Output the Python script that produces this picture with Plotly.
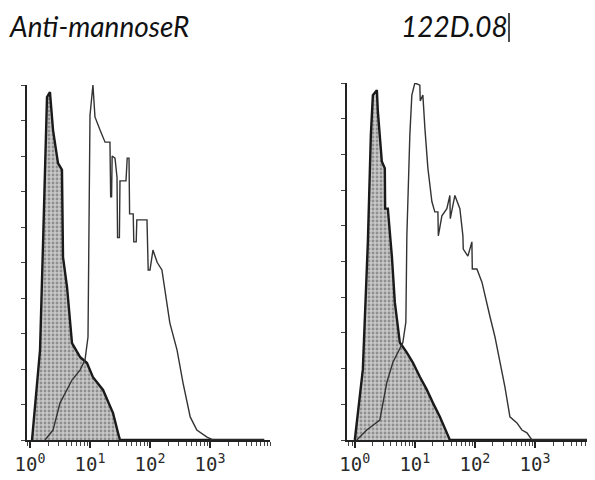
import plotly.graph_objects as go

# ---- data (fluorescence intensity, relative cell count) ----
titles = ["Anti-mannoseR", "122D.08"]

ctrl_left_x = [1.08, 1.47, 1.65, 1.78, 1.92, 2.15, 2.42, 2.93, 3.41, 3.55, 4.14, 5.01,
               6.81, 8.91, 11.2, 16.5, 24.2, 29.3, 31.6, 8000]
ctrl_left_y = [0, 25.4, 55.5, 78.9, 96.6, 98.0, 87.3, 78.0, 76.1, 51.5, 43.1, 27.3,
               23.4, 21.7, 17.7, 14.1, 7.6, 2.0, 0, 0]

stain_left_x = [1.78, 2.42, 3.16, 4.14, 5.01, 6.81, 8.25, 9.26, 10.0, 11.2, 12.1, 14.7,
                17.8, 21.5, 22.1, 22.9, 23.4, 26.1, 28.2, 28.8, 30.9, 31.6, 35.5, 39.8,
                41.7, 44.7, 45.7, 52.5, 53.7, 58.9, 60.3, 70.8, 89.1, 93.3, 100, 112,
                132, 158, 214, 282, 355, 468, 603, 891, 1122, 8000]
stain_left_y = [0, 2.8, 10.4, 14.1, 16.9, 19.7, 22.5, 29.0, 91.5, 100, 91.0, 87.3,
                83.9, 83.9, 68.5, 68.5, 80, 79.4, 74, 57, 57, 73, 73, 73,
                79.4, 79.4, 63.7, 63.7, 55.8, 55.8, 62, 62, 62, 47.9, 47.9, 53.5,
                50, 47.9, 33.0, 25.4, 16.1, 6.5, 2.8, 0.8, 0, 0]

ctrl_right_x = [1.0, 1.36, 1.65, 1.85, 2.0, 2.33, 2.42, 2.82, 3.16, 3.2, 3.55, 4.14,
                4.64, 5.62, 7.36, 9.26, 12.1, 15.8, 20.0, 26.1, 34.1, 38.3, 10000]
ctrl_right_y = [0, 19.7, 55.5, 85.4, 96.6, 98.0, 92.1, 78.0, 76.1, 64.8, 64.8, 51.5,
                38.6, 27.3, 24.5, 21.7, 17.7, 14.1, 10.4, 6.5, 2.0, 0, 0]

stain_right_x = [1.08, 1.58, 2.61, 3.41, 4.30, 5.21, 6.31, 7.08, 7.36, 8.25, 8.91, 10.0,
                 12.1, 12.3, 13.6, 14.7, 16.5, 19.2, 21.5, 24.2, 24.6, 28.2, 34.1, 38.3,
                 38.9, 46.4, 56.2, 63.1, 64.0, 76.4, 89.1, 90.5, 108, 131, 147, 178,
                 215, 261, 316, 383, 501, 607, 736, 891, 10000]
stain_right_y = [0, 2.8, 5.6, 16.1, 21.7, 24.5, 27.3, 33.0, 57.2, 85.4, 96.6, 100,
                 99.4, 95.0, 96.6, 87.3, 76.1, 66.8, 63.9, 63.9, 57.2, 62.8, 64.8, 68.5,
                 62.0, 68.5, 64.8, 57.2, 53.5, 51.5, 55.5, 47.9, 47.9, 44.2, 40.3, 34.6,
                 29.0, 21.7, 14.9, 6.5, 4.8, 2.8, 2.0, 0, 0]

decade_vals = [1, 10, 100, 1000]
decade_text = ["10<sup>0</sup>", "10<sup>1</sup>", "10<sup>2</sup>", "10<sup>3</sup>"]

W, H = 595, 480
OFF = 8  # page body margin shift
fig = go.Figure()

panels = [
    ("x", "y", ctrl_left_x, ctrl_left_y, stain_left_x, stain_left_y),
    ("x2", "y2", ctrl_right_x, ctrl_right_y, stain_right_x, stain_right_y),
]
for xa, ya, cx, cy, sx, sy in panels:
    fig.add_trace(go.Scatter(
        x=cx, y=cy, xaxis=xa, yaxis=ya, mode="lines", fill="tozeroy",
        line=dict(color="#1a1a1a", width=2.4),
        fillcolor="#bdbdbd",
        fillpattern=dict(shape=".", fgcolor="#555555", bgcolor="#c8c8c8",
                         size=4, solidity=0.4),
        showlegend=False, hoverinfo="skip"))
    fig.add_trace(go.Scatter(
        x=sx, y=sy, xaxis=xa, yaxis=ya, mode="lines",
        line=dict(color="#333333", width=1.4),
        showlegend=False, hoverinfo="skip"))


def px_x(p):
    return (p - OFF) / W


def px_y(p):
    return (H - (p - OFF)) / H


xcommon = dict(type="log", showline=True, linecolor="#222", linewidth=1.8,
               ticks="outside", ticklen=6, tickwidth=1.6, tickcolor="#222",
               tickvals=decade_vals, ticktext=decade_text,
               tickfont=dict(family="DejaVu Sans Mono", size=19, color="#2a2a2a"),
               minor=dict(ticks="outside", ticklen=4, tickwidth=1.2,
                          tickcolor="#444", dtick="D1"),
               showgrid=False, zeroline=False, fixedrange=True)
ycommon = dict(range=[0, 100], showline=True, linecolor="#222", linewidth=2.2,
               ticks="outside", ticklen=4, tickwidth=1.2, tickcolor="#444",
               dtick=10, showticklabels=False, showgrid=False, zeroline=False)

fig.update_layout(
    width=W, height=H,
    margin=dict(l=0, r=0, t=0, b=0, autoexpand=False),
    paper_bgcolor="white", plot_bgcolor="white",
    xaxis=dict(xcommon, domain=[px_x(27), px_x(270)], range=[-0.05, 4.0], anchor="y"),
    yaxis=dict(ycommon, domain=[px_y(440), px_y(85)], anchor="x"),
    xaxis2=dict(xcommon, domain=[px_x(347), px_x(595)], range=[-0.13, 4.0], anchor="y2"),
    yaxis2=dict(ycommon, domain=[px_y(440), px_y(83)], anchor="x2"),
)

fig.add_annotation(text="<i>" + titles[0] + "</i>", xref="paper", yref="paper",
                   x=px_x(8), y=1.0, xanchor="left", yanchor="top",
                   borderpad=0, showarrow=False,
                   font=dict(family="Lato", size=28, color="#111"))
fig.add_annotation(text="<i>" + titles[1] + "</i>", xref="paper", yref="paper",
                   x=px_x(400), y=1.0, xanchor="left", yanchor="top",
                   borderpad=0, showarrow=False,
                   font=dict(family="Lato", size=28, color="#111"))
fig.add_shape(type="line", xref="paper", yref="paper",
              x0=px_x(509), x1=px_x(509), y0=px_y(42), y1=px_y(13),
              line=dict(color="#111", width=1.5))

fig.write_html("out.html")
